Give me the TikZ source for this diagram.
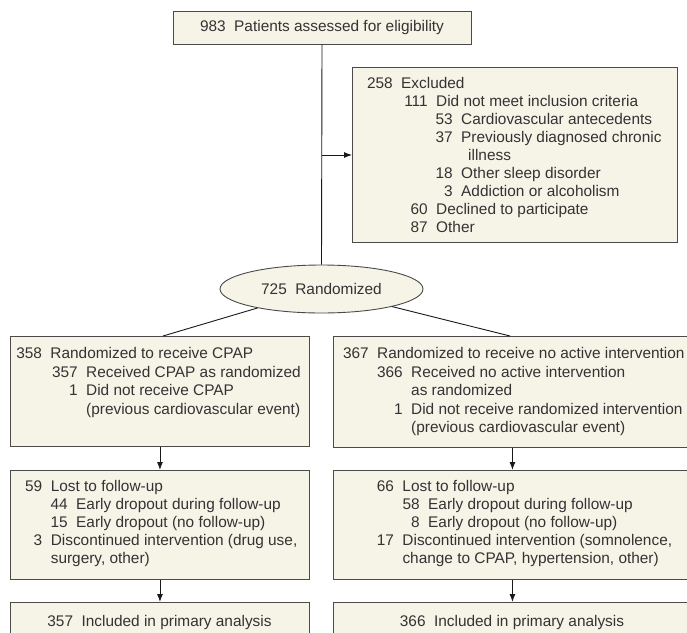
\documentclass[tikz,border=0pt]{standalone}
\usepackage{fontspec}
\setmainfont{Liberation Sans}
\usetikzlibrary{arrows.meta,shapes.geometric}
\definecolor{boxfill}{HTML}{F6F3E7}
\definecolor{boxline}{HTML}{4A4A4A}
\definecolor{txtc}{HTML}{333333}
\newcommand\Ln[3]{\hbox{\kern#1pt\llap{#2\kern8.5pt}#3}}
\begin{document}
\begin{tikzpicture}[x=1pt,y=-1pt,
  every node/.style={font=\fontsize{15.4}{18}\selectfont, text=txtc},
  box/.style={draw=boxline, line width=0.9pt, fill=boxfill, inner sep=0pt, rectangle},
  ell/.style={draw=boxline, line width=0.9pt, fill=boxfill, inner sep=0pt, ellipse},
  txtnode/.style={inner sep=0pt, anchor=base west},
  conn/.style={draw=black!90, line width=0.9pt},
  arr/.style={conn, -{Latex[length=8pt,width=6pt]}}]
\useasboundingbox (0,0) rectangle (687,632);
\clip (0,0) rectangle (687,632);

% top box
\node[box, minimum width=298pt, minimum height=33pt] (top) at (322,27.5) {983\kern8.5pt Patients assessed for eligibility};

% excluded box
\node[box, minimum width=325pt, minimum height=175pt, anchor=north west] (excl) at (352,67) {};
\node[txtnode] (exclt) at (352,88) {\vtop{\baselineskip=18pt
  \Ln{49}{258}{Excluded}
  \Ln{84}{111}{Did not meet inclusion criteria}
  \Ln{109}{53}{Cardiovascular antecedents}
  \Ln{109}{37}{Previously diagnosed chronic}
  \Ln{116}{}{illness}
  \Ln{109}{18}{Other sleep disorder}
  \Ln{109}{3}{Addiction or alcoholism}
  \Ln{84}{60}{Declined to participate}
  \Ln{84}{87}{Other}}};

% randomized
\node[ell, minimum width=203pt, minimum height=48pt] (rand) at (321.5,289) {725\kern8.5pt Randomized};

% arm boxes
\node[box, minimum width=299pt, minimum height=110pt, anchor=north west] (b1) at (10,336) {};
\node[txtnode] (b1t) at (10,358.5) {\vtop{\baselineskip=18.5pt
  \Ln{40.3}{358}{Randomized to receive CPAP}
  \Ln{76}{357}{Received CPAP as randomized}
  \Ln{76}{1}{Did not receive CPAP}
  \Ln{76}{}{(previous cardiovascular event)}}};

\node[box, minimum width=358pt, minimum height=111pt, anchor=north west] (b2) at (333,336) {};
\node[txtnode] (b2t) at (333,358.5) {\vtop{\baselineskip=18.5pt
  \Ln{44}{367}{Randomized to receive no active intervention}
  \Ln{78}{366}{Received no active intervention}
  \Ln{78}{}{as randomized}
  \Ln{78}{1}{Did not receive randomized intervention}
  \Ln{78}{}{(previous cardiovascular event)}}};

% lost boxes
\node[box, minimum width=299pt, minimum height=109pt, anchor=north west] (l1) at (10,470) {};
\node[txtnode] (l1t) at (10,491.5) {\vtop{\baselineskip=18pt
  \Ln{40.6}{59}{Lost to follow-up}
  \Ln{66}{44}{Early dropout during follow-up}
  \Ln{66}{15}{Early dropout (no follow-up)}
  \Ln{40.6}{3}{Discontinued intervention (drug use,}
  \Ln{40.6}{}{surgery, other)}}};

\node[box, minimum width=358pt, minimum height=109pt, anchor=north west] (l2) at (333,470) {};
\node[txtnode] (l2t) at (333,491.5) {\vtop{\baselineskip=18pt
  \Ln{69.3}{66}{Lost to follow-up}
  \Ln{95}{58}{Early dropout during follow-up}
  \Ln{95}{8}{Early dropout (no follow-up)}
  \Ln{69.3}{17}{Discontinued intervention (somnolence,}
  \Ln{69.3}{}{change to CPAP, hypertension, other)}}};

% final boxes
\node[box, minimum width=299pt, minimum height=58pt, anchor=north west] (f1) at (10,602) {};
\node[inner sep=0pt, anchor=base] (f1t) at (159.5,626) {357\kern8.5pt Included in primary analysis};
\node[box, minimum width=358pt, minimum height=58pt, anchor=north west] (f2) at (333,602) {};
\node[inner sep=0pt, anchor=base] (f2t) at (512,626) {366\kern8.5pt Included in primary analysis};

% connectors
\draw[conn] (top.south) -- (rand.north);
\coordinate (exa) at (322,155);
\draw[arr] (exa) -- (exa -| excl.west);
\coordinate (b1in) at (163,336);
\coordinate (b2in) at (510,336);
\draw[conn] (rand) -- (b1in);
\draw[conn] (rand) -- (b2in);
\draw[arr] (b1.south) -- (l1.north);
\draw[arr] (b2.south) -- (l2.north);
\draw[arr] (l1.south) -- (f1.north);
\draw[arr] (l2.south) -- (f2.north);
\end{tikzpicture}
\end{document}
